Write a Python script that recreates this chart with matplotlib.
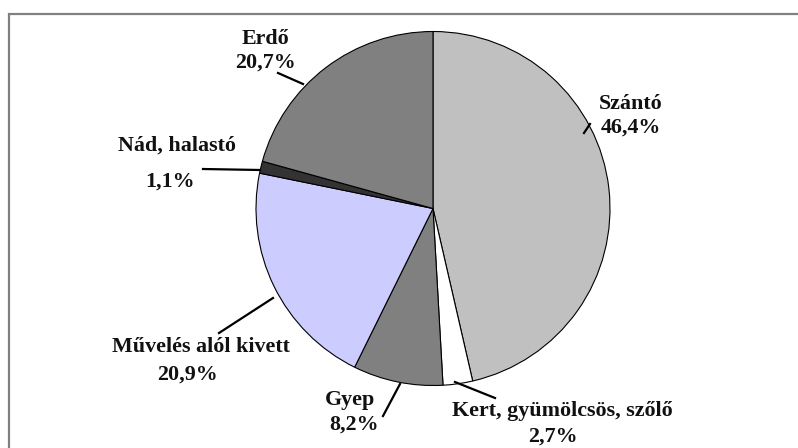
import matplotlib
matplotlib.use("Agg")
import matplotlib.pyplot as plt
from matplotlib.patches import Rectangle

# Data
categories = ["Szántó", "Kert, gyümölcsös, szőlő", "Gyep", "Művelés alól kivett", "Nád, halastó", "Erdő"]
values = [46.4, 2.7, 8.2, 20.9, 1.1, 20.7]
value_labels = ["46,4%", "2,7%", "8,2%", "20,9%", "1,1%", "20,7%"]
colors = ["#C0C0C0", "#FFFFFF", "#808080", "#CCCCFF", "#333333", "#808080"]

W, H = 798, 448
fig = plt.figure(figsize=(W / 100, H / 100), dpi=100)
ax = fig.add_axes([0, 0, 1, 1])
ax.set_xlim(0, W)
ax.set_ylim(0, H)
ax.set_aspect("equal")
ax.axis("off")

def Y(py):
    return H - py

# frame
ax.add_patch(Rectangle((8.5, -5), W, Y(13.5) + 5, fill=False, edgecolor="#808080", linewidth=1.6))

cx, cy, r = 433, 208.5, 177
ax.pie(values, colors=colors, startangle=90, counterclock=False,
       center=(cx, Y(cy)), radius=r, frame=True,
       wedgeprops=dict(edgecolor="black", linewidth=0.8))
ax.set_xlim(0, W)
ax.set_ylim(0, H)
ax.axis("off")

font = dict(family="Liberation Serif", fontweight="bold", fontsize=15.8, color="#111111")

# label layout: (name x, name y, value x, value y, leader start, leader end)
layout = [
    (631, 104, 631, 128, (590, 124), (584, 133)),
    (562, 411, 553, 437, (495, 398), (455, 382)),
    (350, 400, 354, 425, (383, 416), (400, 384)),
    (201, 347, 188, 375, (219, 333), (273, 298)),
    (177, 146, 170, 182, (203, 169), (260, 170)),
    (265, 39, 265, 63, (278, 73), (303, 84)),
]

for name, val, (nx, ny, vx, vy, p0, p1) in zip(categories, value_labels, layout):
    ax.text(nx, Y(ny), name, ha="center", va="center", **font)
    ax.text(vx, Y(vy), val, ha="center", va="center", **font)
    ax.plot([p0[0], p1[0]], [Y(p0[1]), Y(p1[1])], color="black", linewidth=1.6)

fig.savefig("out.png", dpi=100)
